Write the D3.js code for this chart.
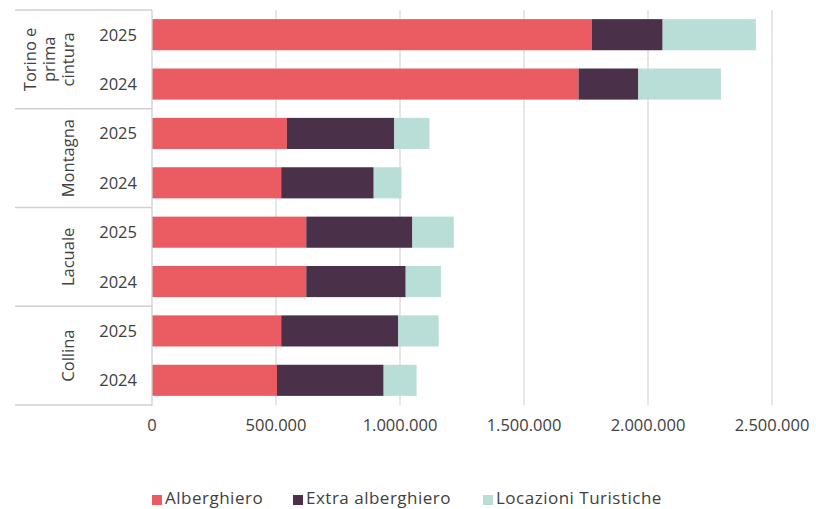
<!DOCTYPE html>
<html><head><meta charset="utf-8">
<script src="https://cdn.jsdelivr.net/npm/d3@7"></script>
<style>body{margin:0;background:#fff;} text{font-family:"Open Sans",sans-serif;fill:#404040;}</style>
</head><body>
<svg id="c" width="816" height="509"></svg>
<script>
const groups = ["Torino e prima cintura","Montagna","Lacuale","Collina"];
const groupLines = [["Torino e","prima","cintura"],["Montagna"],["Lacuale"],["Collina"]];
const years = ["2025","2024"];
const series = ["Alberghiero","Extra alberghiero","Locazioni Turistiche"];
const colors = ["#EA5C61","#4A3049","#B9DED7"];
// values in order: group x year (2025, 2024)
const alberghiero =      [1774000,1720000, 544000,521000, 622000,622000, 521000,504000];
const extraAlberghiero = [ 285000, 241000, 433000,373000, 428000,401000, 472000,430000];
const locazioni =        [ 376000, 333000, 142000,112000, 167000,142000, 163000,133000];
const xTicks = [0,500000,1000000,1500000,2000000,2500000];

const rows = [];
groups.forEach((g,gi)=>years.forEach((y,yi)=>{
  const i = gi*2+yi;
  rows.push({key:g+"|"+y, group:g, year:y, "Alberghiero":alberghiero[i], "Extra alberghiero":extraAlberghiero[i], "Locazioni Turistiche":locazioni[i]});
}));

const svg = d3.select("#c");
const x0 = 152, x1 = 772, yTop = 10, yBot = 405;
const x = d3.scaleLinear().domain([0,2500000]).range([x0,x1]);
const y = d3.scaleBand().domain(rows.map(r=>r.key)).range([yTop,yBot]).paddingInner(0.37).paddingOuter(0.185);

// gridlines
svg.append("g").selectAll("line").data(xTicks.slice(1)).join("line")
  .attr("x1",d=>x(d)).attr("x2",d=>x(d)).attr("y1",yTop).attr("y2",yBot)
  .attr("stroke","#d9d9d9").attr("stroke-width",1.3);

// bars
const stack = d3.stack().keys(series)(rows);
svg.append("g").selectAll("g").data(stack).join("g").attr("fill",(d,i)=>colors[i])
  .selectAll("rect").data(d=>d).join("rect")
  .attr("x",d=>x(d[0])).attr("width",d=>x(d[1])-x(d[0]))
  .attr("y",d=>y(d.data.key)).attr("height",y.bandwidth());

// axis vertical line
svg.append("line").attr("x1",x0).attr("x2",x0).attr("y1",yTop).attr("y2",yBot+1)
  .attr("stroke","#d0d0d0").attr("stroke-width",1.3);

// group separators
const gb = [yTop, ...groups.map((g,i)=>yTop+(i+1)*(yBot-yTop)/groups.length)];
svg.append("g").selectAll("line").data(gb).join("line")
  .attr("x1",15).attr("x2",x0).attr("y1",d=>d).attr("y2",d=>d)
  .attr("stroke","#d0d0d0").attr("stroke-width",1.3);

// year labels
svg.append("g").selectAll("text").data(rows).join("text")
  .attr("x",137).attr("y",d=>y(d.key)+y.bandwidth()/2).attr("dy","0.36em")
  .attr("text-anchor","end").attr("font-size",16.5).text(d=>d.year);

// group labels (rotated)
groups.forEach((g,gi)=>{
  const cy = (gb[gi]+gb[gi+1])/2;
  const lines = groupLines[gi];
  const lh = 19;
  const t = svg.append("text").attr("font-size",16.5).attr("text-anchor","middle")
    .attr("transform",`translate(${74 - (lines.length-1)*lh},${cy}) rotate(-90)`);
  lines.forEach((l,li)=>t.append("tspan").attr("x",0).attr("y",li*lh).text(l));
});

// x tick labels
const fmt = d3.formatLocale({decimal:",",thousands:".",grouping:[3],currency:["","€"]}).format(",.0f");
svg.append("g").selectAll("text").data(xTicks).join("text")
  .attr("x",d=>x(d)).attr("y",431).attr("text-anchor","middle").attr("font-size",16.5).text(d=>fmt(d));

// legend
const legX = [152,293,483];
const lg = svg.append("g").selectAll("g").data(series).join("g")
  .attr("transform",(d,i)=>`translate(${legX[i]},0)`);
lg.append("rect").attr("x",0).attr("y",495).attr("width",10).attr("height",10).attr("fill",(d,i)=>colors[i]);
lg.append("text").attr("x",13).attr("y",504).attr("font-size",17).attr("letter-spacing",0.5).text(d=>d);
</script>
</body></html>
